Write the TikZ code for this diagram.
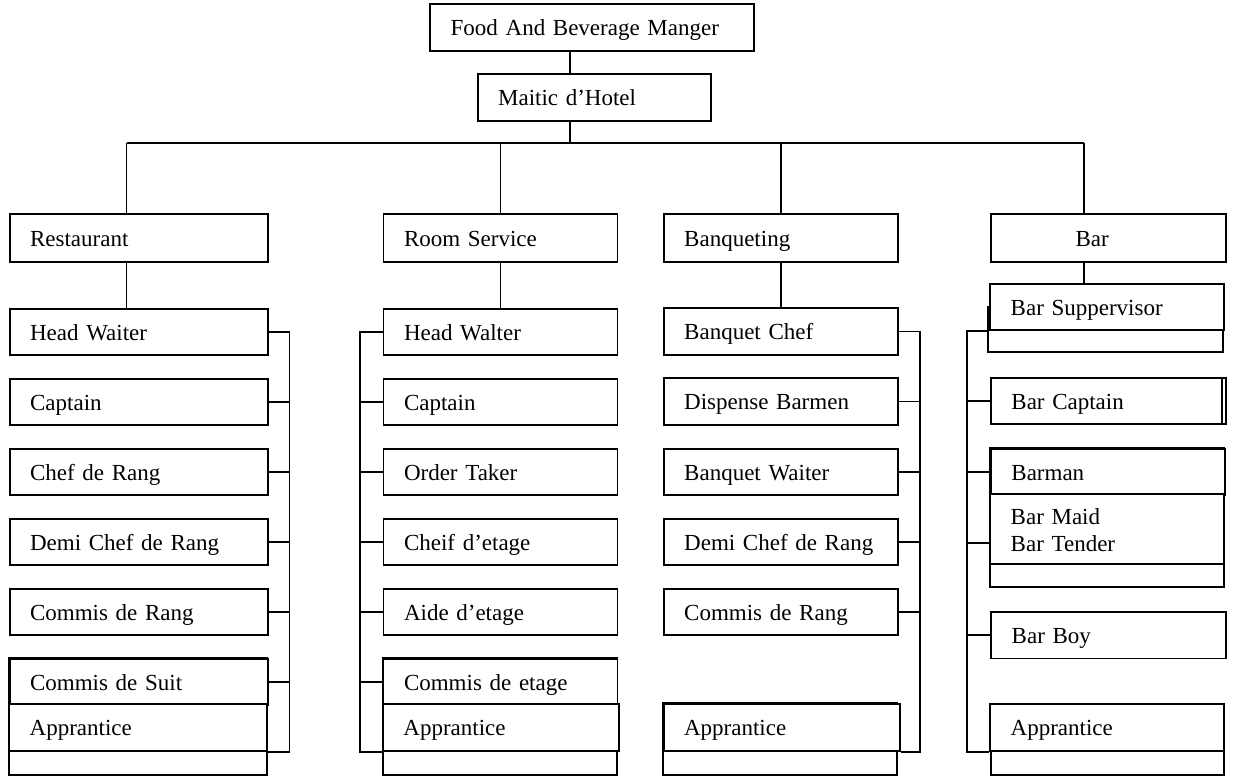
\documentclass[tikz,border=0pt]{standalone}
\usepackage{fontspec}
\setmainfont{Liberation Serif}
\usetikzlibrary{calc}
\begin{document}
\begin{tikzpicture}[x=1pt,y=-1pt,line width=1.8pt,
  post/.style={draw, fill=white, anchor=north west, inner xsep=20.5pt, inner ysep=0pt,
    minimum height=46.5pt, text height=19pt, text depth=2.5pt, align=left,
    font=\fontsize{23}{26.7}\selectfont},
  head/.style={post, minimum height=47.4pt},
  wres/.style={text width=217pt},
  wroom/.style={text width=193pt},
  wbanq/.style={text width=193.4pt},
  wbar/.style={text width=193.5pt},
  tail/.style={draw, fill=white}]
\useasboundingbox (0,0) rectangle (1241,778);

% top of the chart
\node[post, text width=282.7pt] (fbm) at (429.3,3.3) {Food And Beverage Manger};
\node[post, text width=192.3pt] (mdh) at (476.7,73.3) {Maitic d’Hotel};

% departments
\node[head, wres]  (rest) at (8.7,213.3)   {Restaurant};
\node[head, wroom] (room) at (382.6,213.3) {Room Service};
\node[head, wbanq] (banq) at (662.8,213.3) {Banqueting};
\node[head, text width=65.8pt, inner xsep=84.6pt] (bar) at (990,213.3) {Bar};

% restaurant staff
\draw[tail] (9,657.7) rectangle (266.7,775);
\node[post, wres] (rhw)   at (8.7,307.7) {Head Waiter};
\node[post, wres] (rcap)  at (8.7,377.7) {Captain};
\node[post, wres] (rchef) at (8.7,447.7) {Chef de Rang};
\node[post, wres] (rdemi) at (8.7,517.7) {Demi Chef de Rang};
\node[post, wres] (rcomm) at (8.7,587.7) {Commis de Rang};
\node[post, wres] (rsuit) at (8.7,657.7) {Commis de Suit};
\node[post, text width=216.4pt] (rap) at (8.3,703.3) {Apprantice};

% room service staff
\draw[tail] (383.3,657.7) rectangle (616.7,775);
\node[post, wroom] (shw)    at (382.6,307.7) {Head Walter};
\node[post, wroom] (scap)   at (382.6,377.7) {Captain};
\node[post, wroom] (sord)   at (382.6,447.7) {Order Taker};
\node[post, wroom] (scheif) at (382.6,517.7) {Cheif d’etage};
\node[post, wroom] (saide)  at (382.6,587.7) {Aide d’etage};
\node[post, wroom] (scomm)  at (382.6,657.7) {Commis de etage};
\node[post, text width=195.3pt] (sap) at (382,703.3) {Apprantice};

% banqueting staff
\draw[tail] (663.3,703.3) rectangle (897.3,775);
\node[post, wbanq] (qchef) at (662.8,307.3) {Banquet Chef};
\node[post, wbanq] (qdisp) at (662.8,377.3) {Dispense Barmen};
\node[post, wbanq] (qwait) at (662.8,447.7) {Banquet Waiter};
\node[post, wbanq] (qdemi) at (662.8,517.7) {Demi Chef de Rang};
\node[post, wbanq] (qcomm) at (662.8,587.7) {Commis de Rang};
\node[post, text width=195.3pt] (qap) at (662.7,703.3) {Apprantice};

% bar staff
\draw[tail] (988.3,306.7) rectangle (1222.7,351.7);
\draw[tail] (990,447.7) rectangle (1224.3,587.3);
\draw[tail] (990.7,727) rectangle (1224.3,775);
\node[post, text width=193pt] (xsup) at (989.3,282.7) {Bar Suppervisor};
\node[post, text width=194pt] (xcap) at (990,376.7) {Bar Captain};
\draw (1222.3,376.7) -- (1222.3,424);
\node[post, text width=193.3pt] (xman) at (990,447.7) {Barman};
\node[post, text width=193pt, minimum height=69.4pt, text height=19pt, text depth=27pt]
  (xmaid) at (989.3,493.3) {Bar Maid\\Bar Tender};
\node[post, wbar] (xboy) at (990.3,611) {Bar Boy};
\node[post, text width=193pt] (xap) at (989.3,703.3) {Apprantice};

% trunk and department links
\coordinate (trunk) at (570,143.3);
\coordinate (lt) at (126.5,143.3);
\coordinate (rt) at (1084,143.3);
\draw (fbm.south -| trunk) -- (mdh.north -| trunk);
\draw (mdh.south -| trunk) -- (trunk);
\draw (lt) -- (rt);
\draw (lt) -- (rest.north -| lt);
\draw (room.north) -- (room.north |- lt);
\draw (banq.north) -- (banq.north |- lt);
\draw (rt) -- (bar.north -| rt);
\draw (rest.south -| lt) -- (rhw.north -| lt);
\draw (room.south) -- (shw.north);
\draw (banq.south) -- (qchef.north);
\draw (bar.south -| rt) -- (xsup.north -| rt);

% staff buses
\coordinate (rbus) at (289.5,0);
\coordinate (sbus) at (359.7,0);
\coordinate (qbus) at (920,0);
\coordinate (xbus) at (967.3,0);

\draw (rhw.east) -- (rhw.east -| rbus) -- (rap.south east -| rbus) -- (rap.south east);
\foreach \n in {rcap,rchef,rdemi,rcomm,rsuit} \draw (\n.east) -- (\n.east -| rbus);

\draw (shw.west) -- (shw.west -| sbus) -- (sap.south west -| sbus) -- (sap.south west);
\foreach \n in {scap,sord,scheif,saide,scomm} \draw (\n.west) -- (\n.west -| sbus);

\draw (qchef.east) -- (qchef.east -| qbus) -- (qap.south east -| qbus) -- (qap.south east);
\foreach \n in {qdisp,qwait,qdemi,qcomm} \draw (\n.east) -- (\n.east -| qbus);

\draw (xsup.south west) -- (xsup.south west -| xbus) -- (xap.south west -| xbus) -- (xap.south west);
\foreach \n in {xcap,xman,xboy} \draw (\n.west) -- (\n.west -| xbus);
\draw ([yshift=21.7pt]xmaid.south west) -- ([yshift=21.7pt]xmaid.south west -| xbus);
\end{tikzpicture}
\end{document}
